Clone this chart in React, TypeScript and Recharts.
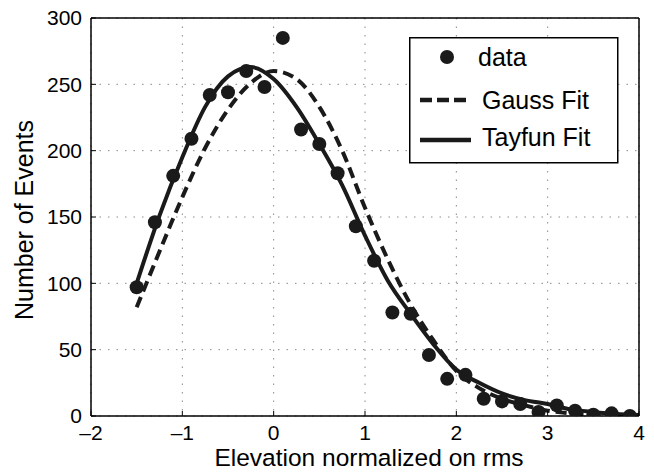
import React from 'react';
import {
  ComposedChart,
  Line,
  Scatter,
  XAxis,
  YAxis,
  CartesianGrid,
  Legend,
  Label,
} from 'recharts';

// measured histogram
const dataX = [-1.5, -1.3, -1.1, -0.9, -0.7, -0.5, -0.3, -0.1, 0.1, 0.3, 0.5, 0.7, 0.9, 1.1,
  1.3, 1.5, 1.7, 1.9, 2.1, 2.3, 2.5, 2.7, 2.9, 3.1, 3.3, 3.5, 3.7, 3.9];
const dataY = [97, 146, 181, 209, 242, 244, 260, 248, 285, 216, 205, 183, 143, 117,
  78, 77, 46, 28, 31, 13, 11, 9, 3, 8, 4, 1, 2, 0];

// fitted curves
const fitX = [-1.5, -1.25, -1, -0.75, -0.5, -0.25, 0, 0.25, 0.5, 0.75, 1, 1.25, 1.5,
  1.75, 2, 2.25, 2.5, 2.75, 3, 3.25, 3.5, 3.75, 4];
const gaussY = [82, 124, 165, 202, 231, 251, 260, 254, 233, 200, 157, 118, 84,
  57, 34, 21, 13, 8, 4, 2, 1, 0.5, 0.2];
const tayfunY = [100, 151, 195, 233, 256, 263, 254, 233, 205, 174, 136, 102, 77,
  54, 35, 25, 17, 12, 9, 5, 3, 1.5, 0.8];

const xTicks = [-2, -1, 0, 1, 2, 3, 4];
const yTicks = [0, 50, 100, 150, 200, 250, 300];

const FONT = '"Liberation Sans", Arial, Helvetica, sans-serif';
const INK = '#1a1a1a';

const scatterData = dataX.map((x, i) => ({ x, y: dataY[i] }));
const gaussData = fitX.map((x, i) => ({ x, y: gaussY[i] }));
const tayfunData = fitX.map((x, i) => ({ x, y: tayfunY[i] }));

const fmtX = (v: number) => (v < 0 ? '\u2013' + Math.abs(v) : String(v));

const Dot = (props: any) => <circle cx={props.cx} cy={props.cy} r={7} fill={INK} />;

const LegendBox = () => (
  <svg width={210} height={127} style={{ display: 'block' }}>
    <rect x={0.75} y={0.75} width={208} height={125} fill="#fff" stroke="#000" strokeWidth={1.5} />
    <circle cx={38} cy={20} r={7} fill={INK} />
    <text x={69} y={29} fontSize={25} fontFamily={FONT} fill="#000">data</text>
    <line x1={11} y1={63} x2={58} y2={63} stroke={INK} strokeWidth={4.5} strokeDasharray="12 5" />
    <text x={73} y={72} fontSize={25} fontFamily={FONT} fill="#000">Gauss Fit</text>
    <line x1={11} y1={103} x2={62} y2={103} stroke={INK} strokeWidth={4.5} />
    <text x={73} y={109} fontSize={25} fontFamily={FONT} fill="#000">Tayfun Fit</text>
  </svg>
);

const App: React.FC = () => {
  return (
    <div style={{ position: 'absolute', left: 0, top: 0, background: '#fff' }}>
      <ComposedChart
        width={654}
        height={472}
        margin={{ top: 17, right: 14, left: 0, bottom: 0 }}
      >
        <CartesianGrid
          xAxisId="b"
          yAxisId="l"
          stroke="#8a8a8a"
          strokeDasharray="1.5 7"
        />
        <XAxis
          xAxisId="b"
          dataKey="x"
          type="number"
          domain={[-2, 4]}
          ticks={xTicks}
          allowDataOverflow
          tickFormatter={fmtX}
          tickSize={-5}
          tickMargin={14}
          height={56}
          axisLine={{ stroke: '#000', strokeWidth: 1.5 }}
          tickLine={{ stroke: '#000' }}
          tick={{ fontSize: 21, fill: '#000', fontFamily: FONT }}
        >
          <Label
            value="Elevation normalized on rms"
            position="insideBottom"
            offset={6}
            dx={4}
            fontSize={24.5}
            fill="#000"
            fontFamily={FONT}
          />
        </XAxis>
        <XAxis
          xAxisId="t"
          orientation="top"
          type="number"
          domain={[-2, 4]}
          ticks={xTicks}
          allowDataOverflow
          tick={false}
          tickSize={-5}
          height={1}
          axisLine={{ stroke: '#000', strokeWidth: 1.5 }}
          tickLine={{ stroke: '#000' }}
        />
        <YAxis
          yAxisId="l"
          type="number"
          domain={[0, 300]}
          ticks={yTicks}
          allowDataOverflow
          tickSize={-5}
          tickMargin={14}
          width={91}
          axisLine={{ stroke: '#000', strokeWidth: 1.5 }}
          tickLine={{ stroke: '#000' }}
          tick={{ fontSize: 21, fill: '#000', fontFamily: FONT }}
        >
          <Label
            value="Number of Events"
            angle={-90}
            position="center"
            dx={-21.5}
            dy={3}
            fontSize={25}
            fill="#000"
            fontFamily={FONT}
          />
        </YAxis>
        <YAxis
          yAxisId="r"
          orientation="right"
          type="number"
          domain={[0, 300]}
          ticks={yTicks}
          allowDataOverflow
          tick={false}
          tickSize={-5}
          width={1}
          axisLine={{ stroke: '#000', strokeWidth: 1.5 }}
          tickLine={{ stroke: '#000' }}
        />
        <Legend
          layout="vertical"
          align="center"
          verticalAlign="middle"
          content={() => <LegendBox />}
          wrapperStyle={{ left: 409, top: 37, width: 210, height: 127 }}
        />
        <Line
          xAxisId="b"
          yAxisId="l"
          data={gaussData}
          dataKey="y"
          type="monotone"
          stroke={INK}
          strokeWidth={4}
          strokeDasharray="11 6"
          dot={false}
          isAnimationActive={false}
        />
        <Line
          xAxisId="b"
          yAxisId="l"
          data={tayfunData}
          dataKey="y"
          type="monotone"
          stroke={INK}
          strokeWidth={4}
          dot={false}
          isAnimationActive={false}
        />
        <Scatter
          xAxisId="b"
          yAxisId="l"
          data={scatterData}
          dataKey="y"
          shape={Dot}
          isAnimationActive={false}
        />
      </ComposedChart>
    </div>
  );
};

export default App;
